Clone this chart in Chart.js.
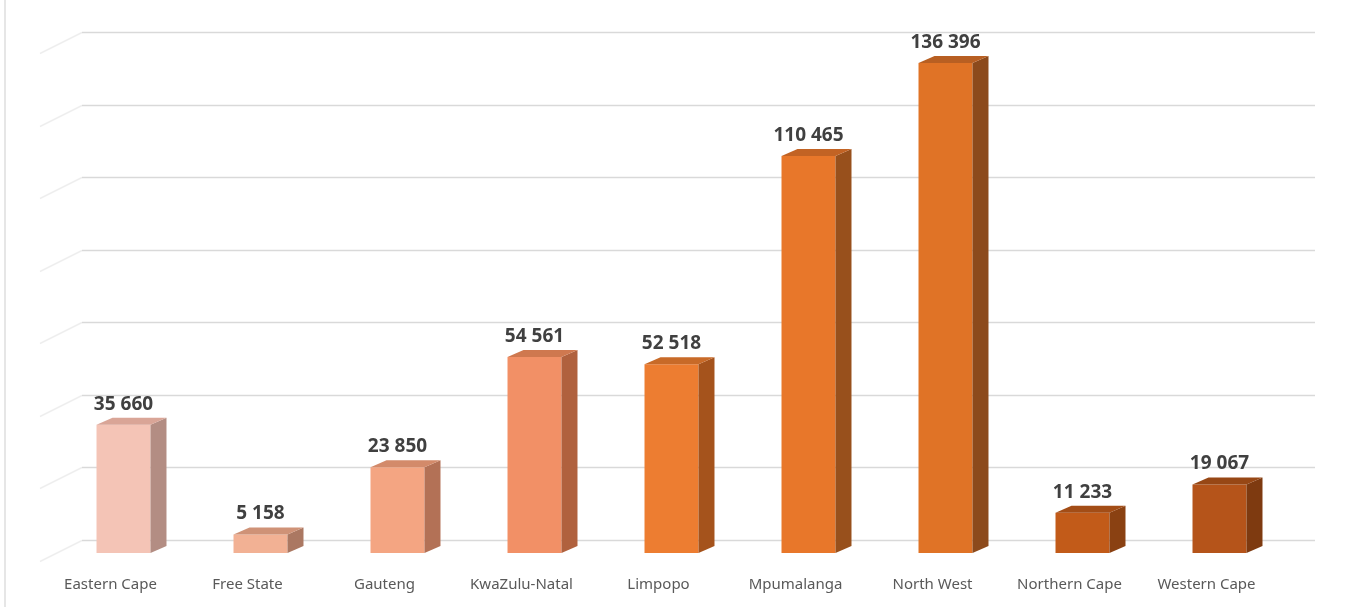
<!DOCTYPE html>
<html>
<head>
<meta charset="utf-8">
<script src="https://cdn.jsdelivr.net/npm/chart.js@4/dist/chart.umd.min.js"></script>
<style>
  html, body { margin: 0; padding: 0; background: #fff; }
  #wrap { position: relative; width: 1362px; height: 607px; }
  #edge { position: absolute; left: 4px; top: 0; width: 2px; height: 607px; background: #e6e6e6; }
</style>
</head>
<body>
<div id="wrap">
  <div id="edge"></div>
  <canvas id="chart" width="1362" height="607"></canvas>
</div>
<script>
const provinces = ['Eastern Cape', 'Free State', 'Gauteng', 'KwaZulu-Natal', 'Limpopo',
                   'Mpumalanga', 'North West', 'Northern Cape', 'Western Cape'];
const households = [35660, 5158, 23850, 54561, 52518, 110465, 136396, 11233, 19067];
const gridTicks = [0, 20000, 40000, 60000, 80000, 100000, 120000, 140000];

const frontColours = ['#f4c4b6', '#f2b194', '#f4a582', '#f29066', '#ed7d31',
                      '#e8772a', '#e07326', '#c25b19', '#b5541a'];
const sideColours  = ['#b38d83', '#ab7862', '#b37156', '#b0613e', '#a5531c',
                      '#98501c', '#8c4a1c', '#8a4112', '#7e3a10'];
const topColours   = ['#d9a597', '#cf9277', '#d38a6a', '#cf784f', '#c86a28',
                      '#c26324', '#b85f22', '#a34d16', '#974715'];

const DX = 16, DY = 7;

function fmt(v) {
    return v.toString().replace(/\B(?=(\d{3})+(?!\d))/g, ' ');
}

const bar3d = {
    id: 'bar3d',
    beforeDatasetsDraw(chart) {
        const ctx = chart.ctx;
        const area = chart.chartArea;
        const g = chart.scales.yGrid;
        ctx.save();
        gridTicks.forEach(t => {
            const y = Math.round(g.getPixelForValue(t)) + 0.5;
            // wall/floor slant on the left
            ctx.strokeStyle = '#eeeeee';
            ctx.lineWidth = 1.5;
            ctx.beginPath();
            ctx.moveTo(area.left + 27, y);
            ctx.lineTo(area.left - 15, y + 21);
            ctx.stroke();
            ctx.strokeStyle = '#d9d9d9';
            ctx.beginPath();
            ctx.moveTo(area.left + 27, y);
            ctx.lineTo(area.right + 27, y);
            ctx.stroke();
        });
        ctx.restore();
    },
    afterDatasetsDraw(chart) {
        const ctx = chart.ctx;
        const meta = chart.getDatasetMeta(0);
        ctx.save();
        meta.data.forEach((bar, i) => {
            const p = bar.getProps(['x', 'y', 'base', 'width'], true);
            const l = p.x - p.width / 2, r = p.x + p.width / 2;
            // side face
            ctx.fillStyle = sideColours[i];
            ctx.beginPath();
            ctx.moveTo(r, p.y);
            ctx.lineTo(r + DX, p.y - DY);
            ctx.lineTo(r + DX, p.base - DY);
            ctx.lineTo(r, p.base);
            ctx.closePath();
            ctx.fill();
            // top face
            ctx.fillStyle = topColours[i];
            ctx.beginPath();
            ctx.moveTo(l, p.y);
            ctx.lineTo(l + DX, p.y - DY);
            ctx.lineTo(r + DX, p.y - DY);
            ctx.lineTo(r, p.y);
            ctx.closePath();
            ctx.fill();
            // value label
            ctx.fillStyle = '#404040';
            ctx.font = 'bold 19px "Open Sans", sans-serif';
            ctx.textAlign = 'center';
            ctx.textBaseline = 'bottom';
            ctx.fillText(fmt(households[i]), p.x, p.y - 11);
        });
        ctx.restore();
    }
};

new Chart(document.getElementById('chart'), {
    type: 'bar',
    data: {
        labels: provinces,
        datasets: [{
            data: households,
            backgroundColor: frontColours,
            borderWidth: 0,
            categoryPercentage: 1,
            barPercentage: 0.394
        }]
    },
    options: {
        responsive: false,
        animation: false,
        devicePixelRatio: 1,
        layout: { padding: { left: 55, right: 74, top: 32, bottom: -10 } },
        plugins: { legend: { display: false }, tooltip: { enabled: false } },
        scales: {
            x: {
                grid: { display: false, drawTicks: false },
                border: { display: false },
                ticks: {
                    labelOffset: -13,
                    padding: 23,
                    color: '#595959',
                    font: { family: '"Noto Sans", sans-serif', size: 15 }
                }
            },
            y: {
                display: false,
                min: 0,
                max: 145000
            },
            yGrid: {
                display: false,
                position: 'left',
                min: -3583,
                max: 140000
            }
        }
    },
    plugins: [bar3d]
});
</script>
</body>
</html>
